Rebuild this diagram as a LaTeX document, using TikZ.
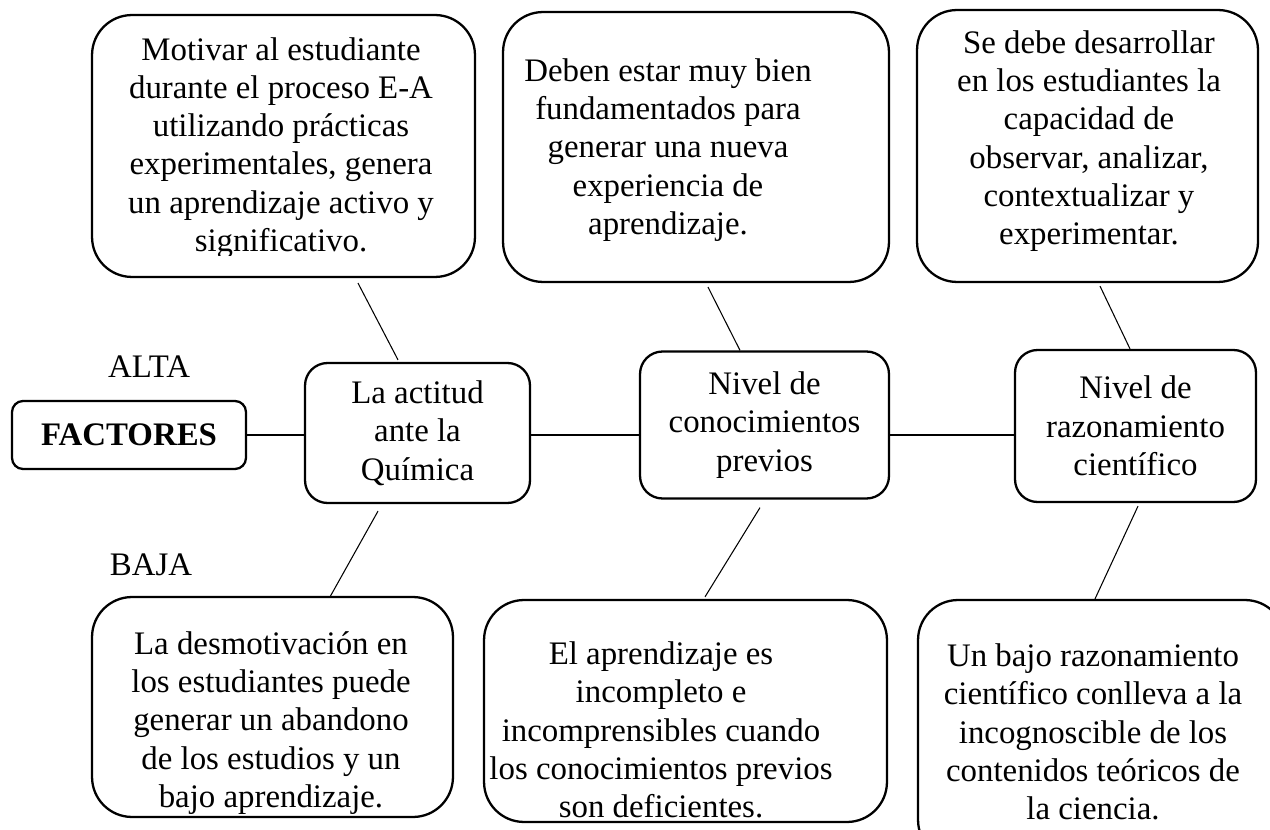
\documentclass[tikz,border=0pt]{standalone}
\usepackage{fontspec}
\setmainfont{Liberation Serif}
\usetikzlibrary{calc}

\newcommand{\txtfont}{\fontsize{18.7}{21.8}\selectfont}

\begin{document}
\begin{tikzpicture}[x=0.02cm, y=-0.02cm,
    box/.style={draw, line width=1.3pt, inner sep=0pt},
    bigbox/.style={box, rounded corners=0.8cm},
    midbox/.style={box, rounded corners=0.45cm, align=center, font=\txtfont},
    txt/.style={align=center, font=\txtfont, inner sep=0pt},
    link/.style={line width=0.6pt}]
  \useasboundingbox (0,0) rectangle (1270,830);

  % Middle row
  \node[box, rounded corners=0.22cm, minimum width=4.68cm, minimum height=1.36cm,
        font=\txtfont\bfseries] (fact) at (129,435) {FACTORES};
  \node[midbox, minimum width=4.5cm, minimum height=2.8cm] (act) at (417.5,433) {La actitud\\ante la\\Química};
  \node[midbox, minimum width=4.98cm, minimum height=2.94cm] (con) at (764.5,425) {Nivel de\\conocimientos\\previos};
  \node[midbox, minimum width=4.82cm, minimum height=3.04cm] (raz) at (1135.5,426) {Nivel de\\razonamiento\\científico};

  \node[txt] (alta) at (149,367) {ALTA};
  \node[txt] (baja) at (151,565) {BAJA};

  % Top row
  \node[bigbox, minimum width=7.66cm, minimum height=5.24cm] (tl) at (283.5,146) {};
  \node[bigbox, minimum width=7.72cm, minimum height=5.4cm] (tm) at (696,147) {};
  \node[bigbox, minimum width=6.82cm, minimum height=5.44cm] (tr) at (1087.5,146) {};
  \begin{scope}
    \clip (95,18) rectangle (472,256);
    \node[txt] (tltxt) at (281,148) {Motivar al estudiante\\durante el proceso E-A\\utilizando prácticas\\experimentales, genera\\un aprendizaje activo y\\significativo.};
  \end{scope}
  \node[txt] (tmtxt) at (668,150) {Deben estar muy bien\\fundamentados para\\generar una nueva\\experiencia de\\aprendizaje.};
  \node[txt] (trtxt) at (1089,141) {Se debe desarrollar\\en los estudiantes la\\capacidad de\\observar, analizar,\\contextualizar y\\experimentar.};

  % Bottom row
  \node[bigbox, minimum width=7.22cm, minimum height=4.4cm] (bl) at (272.5,707) {};
  \node[bigbox, minimum width=8.06cm, minimum height=4.44cm] (bm) at (685.5,711) {};
  \node[bigbox, minimum width=7.34cm, minimum height=5.2cm] (br) at (1101.5,730) {};
  \node[txt] (bltxt) at (271,723) {La desmotivación en\\los estudiantes puede\\generar un abandono\\de los estudios y un\\bajo aprendizaje.};
  \node[txt] (bmtxt) at (661,730) {El aprendizaje es\\incompleto e\\incomprensibles cuando\\los conocimientos previos\\son deficientes.};
  \node[txt] (brtxt) at (1093,732) {Un bajo razonamiento\\científico conlleva a la\\incognoscible de los\\contenidos teóricos de\\la ciencia.};

  % Connectors
  \draw[link] (fact.east) -- (fact.east -| act.west);
  \draw[link] (act.east |- fact.east) -- (con.west |- fact.east);
  \draw[link] (con.east |- fact.east) -- (raz.west |- fact.east);

  \draw[link] ($(tl.south)+(74.5,5)$) -- ($(act.north)+(-19.5,-2)$);
  \draw[link] ($(tm.south)+(12,4)$) -- ($(con.north)+(-24.5,0)$);
  \draw[link] ($(tr.south)+(12.5,3)$) -- ($(raz.north)+(-5.5,0)$);

  \draw[link] ($(act.south)+(-39.5,7)$) -- ($(bl.north)+(57.5,1)$);
  \draw[link] ($(con.south)+(-4.5,8)$) -- ($(bm.north)+(19.5,-2)$);
  \draw[link] ($(raz.south)+(2.5,3)$) -- ($(br.north)+(-6.5,0)$);
\end{tikzpicture}
\end{document}
